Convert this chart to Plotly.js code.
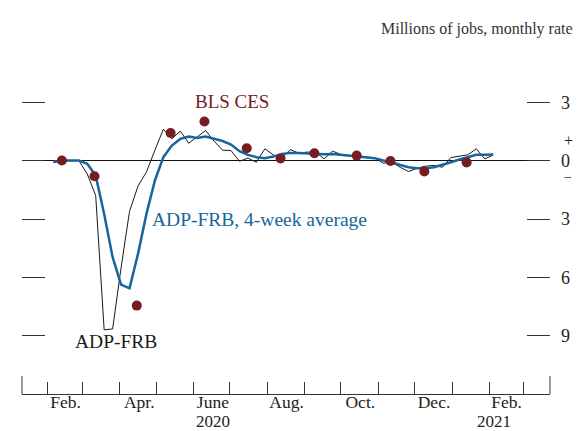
<!DOCTYPE html>
<html>
<head>
<meta charset="utf-8">
<script src="https://cdn.plot.ly/plotly-3.0.1.min.js"></script>
<style>
  html, body { margin: 0; padding: 0; background: #fff; }
  #plot { width: 582px; height: 431px; }
</style>
</head>
<body>
<div id="plot"></div>
<script>
// weekly dates for the ADP-FRB series
var weeks = [
  "2020-02-06", "2020-02-13", "2020-02-20", "2020-02-27", "2020-03-05", "2020-03-12",
  "2020-03-19", "2020-03-26", "2020-04-02", "2020-04-09", "2020-04-16", "2020-04-23",
  "2020-04-30", "2020-05-07", "2020-05-14", "2020-05-21", "2020-05-28", "2020-06-04",
  "2020-06-11", "2020-06-18", "2020-06-25", "2020-07-02", "2020-07-09", "2020-07-16",
  "2020-07-23", "2020-07-30", "2020-08-06", "2020-08-13", "2020-08-20", "2020-08-27",
  "2020-09-03", "2020-09-10", "2020-09-17", "2020-09-24", "2020-10-01", "2020-10-08",
  "2020-10-15", "2020-10-22", "2020-10-29", "2020-11-05", "2020-11-12", "2020-11-19",
  "2020-11-26", "2020-12-03", "2020-12-10", "2020-12-17", "2020-12-24", "2020-12-31",
  "2021-01-07", "2021-01-14", "2021-01-21", "2021-01-28", "2021-02-04"
];

// ADP-FRB weekly, millions of jobs at a monthly rate
var adpWeekly = [
  -0.10, 0.02, 0.00, 0.02, -0.67, -1.79,
  -8.70, -8.65, -5.50, -2.60, -1.30, -0.57,
  0.55, 1.63, 1.13, 1.53, 0.91, 1.22,
  1.56, 1.01, 0.55, 0.53, -0.02, 0.14,
  -0.07, 0.62, 0.31, 0.14, 0.58, 0.40,
  0.45, 0.45, 0.10, 0.50, 0.33, 0.27,
  0.22, 0.18, 0.15, -0.12, -0.07, -0.33,
  -0.55, -0.38, -0.27, -0.24, -0.33, 0.17,
  0.25, 0.31, 0.62, 0.10, 0.30
];

// ADP-FRB, 4-week average
var adpAvg = [
  -0.05, 0.02, 0.02, 0.02, -0.15, -0.76,
  -2.73, -4.96, -6.37, -6.56, -4.79, -2.73,
  -1.01, 0.19, 0.79, 1.13, 1.25, 1.18,
  1.25, 1.12, 1.02, 0.84, 0.50, 0.31,
  0.19, 0.14, 0.22, 0.36, 0.41, 0.40,
  0.38, 0.34, 0.34, 0.35, 0.31, 0.27,
  0.24, 0.19, 0.14, 0.02, -0.07, -0.21,
  -0.33, -0.38, -0.38, -0.33, -0.21, -0.07,
  0.07, 0.19, 0.31, 0.31, 0.33
];

// BLS CES monthly
var blsDates = [
  "2020-02-13", "2020-03-11", "2020-04-15", "2020-05-13", "2020-06-10", "2020-07-15",
  "2020-08-12", "2020-09-09", "2020-10-14", "2020-11-11", "2020-12-09", "2021-01-13"
];
var blsValues = [0.02, -0.79, -7.45, 1.43, 2.03, 0.65, 0.12, 0.39, 0.27, -0.01, -0.55, -0.08];

// axis ticks
var monthStarts = [
  "2020-02-01", "2020-03-01", "2020-04-01", "2020-05-01", "2020-06-01", "2020-07-01",
  "2020-08-01", "2020-09-01", "2020-10-01", "2020-11-01", "2020-12-01", "2021-01-01",
  "2021-02-01", "2021-03-01"
];
var labelDates = ["2020-02-16", "2020-04-17", "2020-06-17", "2020-08-17", "2020-10-17", "2020-12-17", "2021-02-15"];
var labelText = ["Feb.", "Apr.", "June", "Aug.", "Oct.", "Dec.", "Feb."];
var yearDates = ["2020-06-17", "2021-02-05"];
var yearText = ["2020", "2021"];
var yTickVals = [3, 0, -3, -6, -9];
var yTickText = ["3", "0", "3", "6", "9"];

var serif = "Liberation Serif";
var xRange = ["2020-01-11", "2021-03-23"];

var traces = [
  {
    x: weeks, y: adpWeekly, type: "scatter", mode: "lines",
    line: {color: "#1a1a1a", width: 1}, name: "ADP-FRB"
  },
  {
    x: weeks, y: adpAvg, type: "scatter", mode: "lines",
    line: {color: "#17659a", width: 2.5}, name: "ADP-FRB, 4-week average"
  },
  {
    x: blsDates, y: blsValues, type: "scatter", mode: "markers",
    marker: {color: "#761d24", size: 10}, name: "BLS CES"
  },
  // invisible trace so the label axis is drawn
  {
    x: labelDates, y: [0, 0, 0, 0, 0, 0, 0], xaxis: "x2", type: "scatter", mode: "markers",
    marker: {opacity: 0}, hoverinfo: "skip", showlegend: false
  }
];

var annotations = [
  {xref: "paper", yref: "paper", x: 1.0473, y: 1.0735, xanchor: "right", yanchor: "middle",
   text: "Millions of jobs, monthly rate", showarrow: false,
   font: {family: serif, size: 16, color: "#333"}},
  {xref: "x", yref: "y", x: "2020-07-03", y: 3.05, xanchor: "center", yanchor: "middle",
   text: "BLS CES", showarrow: false, font: {family: serif, size: 19, color: "#761d24"}},
  {xref: "x", yref: "y", x: "2020-04-26", y: -3.02, xanchor: "left", yanchor: "middle",
   text: "ADP-FRB, 4-week average", showarrow: false, font: {family: serif, size: 19.5, color: "#17659a"}},
  {xref: "x", yref: "y", x: "2020-03-29", y: -9.3, xanchor: "center", yanchor: "middle",
   text: "ADP-FRB", showarrow: false, font: {family: serif, size: 19.5, color: "#1a1a1a"}},
  {xref: "paper", yref: "y", x: 1.0341, y: 1.05, xanchor: "center", yanchor: "middle",
   text: "+", showarrow: false, font: {family: serif, size: 16, color: "#222"}},
  {xref: "paper", yref: "y", x: 1.0341, y: -0.88, xanchor: "center", yanchor: "middle",
   text: "\u2212", showarrow: false, font: {family: serif, size: 14, color: "#222"}}
];
yearDates.forEach(function(d, i) {
  annotations.push({xref: "x", yref: "paper", x: d, y: -0.082, xanchor: "center", yanchor: "middle",
    text: yearText[i], showarrow: false, font: {family: serif, size: 17, color: "#222"}});
});

var layout = {
  width: 582,
  height: 431,
  margin: {l: 22, r: 32, t: 54, b: 37},
  paper_bgcolor: "#fff",
  plot_bgcolor: "#fff",
  showlegend: false,
  font: {family: serif, size: 18, color: "#222"},
  xaxis: {
    type: "date",
    range: xRange,
    tickvals: monthStarts,
    showticklabels: false,
    ticks: "inside",
    ticklen: 12,
    tickcolor: "#333",
    tickwidth: 1,
    showline: true,
    linecolor: "#333",
    linewidth: 1,
    showgrid: false,
    zeroline: false
  },
  xaxis2: {
    type: "date",
    range: xRange,
    overlaying: "x",
    anchor: "y",
    side: "bottom",
    tickmode: "array",
    tickvals: labelDates,
    ticktext: labelText,
    ticks: "",
    ticklabelstandoff: -5,
    showline: false,
    showgrid: false,
    zeroline: false,
    tickfont: {family: serif, size: 17.5, color: "#222"}
  },
  yaxis: {
    range: [-12, 5.5],
    side: "right",
    tickvals: yTickVals,
    ticktext: yTickText,
    ticks: "inside",
    ticklen: 23,
    tickcolor: "#333",
    tickwidth: 1,
    mirror: "ticks",
    ticklabelstandoff: 10,
    showline: false,
    showgrid: false,
    zeroline: true,
    zerolinecolor: "#111",
    zerolinewidth: 1,
    tickfont: {family: serif, size: 18, color: "#222"}
  },
  shapes: [
    {type: "line", xref: "paper", yref: "paper", x0: -0.0208, x1: 1.0606, y0: 1.3074, y1: 1.3074,
     line: {color: "#333", width: 1.5}},
    {type: "line", xref: "paper", yref: "paper", x0: -0.0208, x1: 1.0606, y0: 1.2029, y1: 1.2029,
     line: {color: "#333", width: 1.5}},
    {type: "line", xref: "paper", yref: "paper", x0: 0, x1: 0, y0: 0, y1: 0.053,
     line: {color: "#333", width: 1}},
    {type: "line", xref: "paper", yref: "paper", x0: 1, x1: 1, y0: 0, y1: 0.053,
     line: {color: "#333", width: 1}}
  ],
  annotations: annotations
};

Plotly.newPlot("plot", traces, layout, {staticPlot: true, displayModeBar: false});
</script>
</body>
</html>
